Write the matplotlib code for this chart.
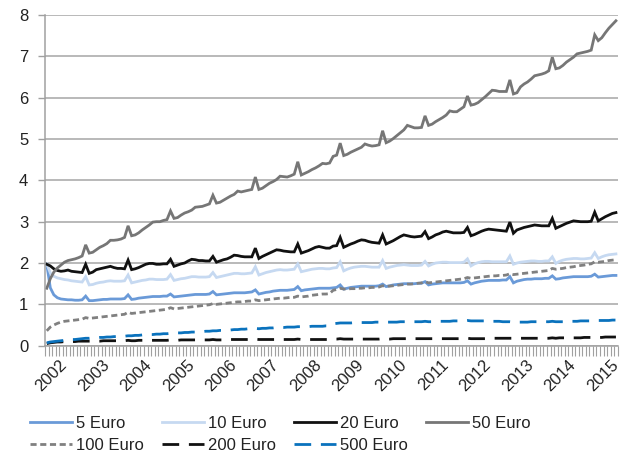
import matplotlib
matplotlib.use("Agg")
import matplotlib.pyplot as plt
import matplotlib.transforms as mtransforms
import numpy as np

plt.rcParams['font.family'] = ['Liberation Sans', 'DejaVu Sans']

years = list(range(2002, 2016))
n_months = 162  # Jan 2002 .. Jun 2015

eur5 = [
    1.97, 1.40, 1.23, 1.16, 1.13, 1.12, 1.11, 1.11, 1.10, 1.10, 1.11, 1.20,
    1.09, 1.09, 1.10, 1.11, 1.12, 1.12, 1.13, 1.13, 1.13, 1.13, 1.14, 1.23,
    1.12, 1.13, 1.15, 1.16, 1.17, 1.18, 1.19, 1.19, 1.19, 1.20, 1.20, 1.25,
    1.18, 1.19, 1.20, 1.21, 1.22, 1.23, 1.24, 1.24, 1.24, 1.24, 1.25, 1.31,
    1.23, 1.24, 1.25, 1.26, 1.27, 1.28, 1.28, 1.28, 1.28, 1.29, 1.30, 1.35,
    1.25, 1.27, 1.29, 1.30, 1.32, 1.33, 1.34, 1.34, 1.34, 1.35, 1.36, 1.43,
    1.33, 1.35, 1.36, 1.37, 1.38, 1.39, 1.39, 1.39, 1.39, 1.40, 1.41, 1.47,
    1.37, 1.39, 1.41, 1.42, 1.43, 1.44, 1.44, 1.44, 1.44, 1.44, 1.45, 1.49,
    1.43, 1.45, 1.47, 1.48, 1.49, 1.50, 1.50, 1.50, 1.50, 1.51, 1.51, 1.55,
    1.47, 1.49, 1.50, 1.51, 1.52, 1.52, 1.52, 1.52, 1.52, 1.52, 1.53, 1.57,
    1.49, 1.52, 1.54, 1.56, 1.57, 1.58, 1.58, 1.58, 1.58, 1.59, 1.59, 1.67,
    1.52, 1.56, 1.58, 1.60, 1.61, 1.61, 1.62, 1.62, 1.62, 1.63, 1.63, 1.69,
    1.61, 1.62, 1.64, 1.65, 1.66, 1.67, 1.67, 1.67, 1.67, 1.67, 1.68, 1.73,
    1.66, 1.67, 1.68, 1.69, 1.70, 1.70,
]

eur10 = [
    1.98, 1.76, 1.68, 1.64, 1.62, 1.60, 1.59, 1.57, 1.56, 1.55, 1.54, 1.67,
    1.47, 1.48, 1.51, 1.53, 1.54, 1.56, 1.57, 1.56, 1.56, 1.56, 1.57, 1.71,
    1.52, 1.54, 1.56, 1.58, 1.59, 1.61, 1.61, 1.60, 1.60, 1.60, 1.61, 1.72,
    1.58, 1.60, 1.62, 1.63, 1.65, 1.67, 1.67, 1.66, 1.66, 1.66, 1.67, 1.77,
    1.65, 1.67, 1.69, 1.71, 1.73, 1.75, 1.75, 1.74, 1.74, 1.75, 1.76, 1.91,
    1.71, 1.74, 1.77, 1.79, 1.81, 1.83, 1.84, 1.83, 1.83, 1.84, 1.85, 1.98,
    1.79, 1.81, 1.83, 1.85, 1.86, 1.87, 1.87, 1.86, 1.86, 1.88, 1.89, 2.03,
    1.81, 1.85, 1.88, 1.90, 1.91, 1.92, 1.92, 1.91, 1.90, 1.90, 1.90, 2.06,
    1.87, 1.90, 1.92, 1.94, 1.95, 1.96, 1.95, 1.94, 1.94, 1.94, 1.95, 2.04,
    1.93, 1.97, 2.00, 2.01, 2.02, 2.02, 2.01, 2.01, 2.01, 2.01, 2.02, 2.10,
    1.93, 1.98, 2.01, 2.03, 2.04, 2.04, 2.03, 2.03, 2.03, 2.03, 2.03, 2.17,
    1.97, 2.00, 2.02, 2.03, 2.04, 2.05, 2.05, 2.04, 2.04, 2.05, 2.05, 2.15,
    1.99, 2.04, 2.07, 2.09, 2.10, 2.11, 2.11, 2.10, 2.10, 2.11, 2.12, 2.25,
    2.11, 2.15, 2.18, 2.20, 2.21, 2.22,
]

eur20 = [
    1.97, 1.93, 1.86, 1.82, 1.80, 1.81, 1.83, 1.80, 1.79, 1.78, 1.77, 1.97,
    1.75, 1.78, 1.84, 1.86, 1.88, 1.90, 1.92, 1.89, 1.87, 1.87, 1.86, 2.07,
    1.84, 1.86, 1.89, 1.93, 1.97, 1.99, 1.99, 1.97, 1.97, 1.98, 1.98, 2.09,
    1.92, 1.95, 1.98, 2.00, 2.05, 2.09, 2.08, 2.06, 2.06, 2.05, 2.05, 2.16,
    2.02, 2.05, 2.08, 2.10, 2.14, 2.19, 2.18, 2.16, 2.15, 2.15, 2.15, 2.36,
    2.11, 2.16, 2.20, 2.24, 2.28, 2.32, 2.31, 2.29, 2.28, 2.27, 2.27, 2.46,
    2.24, 2.27, 2.30, 2.34, 2.38, 2.40, 2.38, 2.36, 2.36, 2.41, 2.42, 2.62,
    2.38, 2.42, 2.46, 2.49, 2.53, 2.56, 2.55, 2.52, 2.50, 2.49, 2.48, 2.68,
    2.46, 2.50, 2.54, 2.59, 2.64, 2.68, 2.66, 2.64, 2.63, 2.64, 2.65, 2.76,
    2.59, 2.63, 2.68, 2.71, 2.75, 2.77, 2.75, 2.73, 2.73, 2.73, 2.74, 2.86,
    2.66, 2.69, 2.73, 2.77, 2.80, 2.82, 2.81, 2.80, 2.79, 2.78, 2.77, 2.99,
    2.72, 2.80, 2.83, 2.86, 2.88, 2.90, 2.92, 2.91, 2.90, 2.90, 2.90, 3.08,
    2.84, 2.88, 2.92, 2.96, 2.99, 3.02, 3.01, 3.00, 3.00, 3.00, 3.01, 3.23,
    3.02, 3.07, 3.12, 3.16, 3.20, 3.22,
]

eur50 = [
    1.39, 1.62, 1.78, 1.88, 1.95, 2.02, 2.06, 2.08, 2.10, 2.13, 2.17, 2.44,
    2.24, 2.26, 2.32, 2.38, 2.42, 2.47, 2.55, 2.55, 2.56, 2.58, 2.62, 2.90,
    2.66, 2.68, 2.73, 2.80, 2.86, 2.92, 2.99, 3.00, 3.00, 3.03, 3.05, 3.26,
    3.08, 3.10, 3.16, 3.21, 3.24, 3.28, 3.35, 3.36, 3.37, 3.40, 3.43, 3.64,
    3.45, 3.47, 3.52, 3.57, 3.62, 3.66, 3.74, 3.72, 3.74, 3.76, 3.78, 4.08,
    3.78, 3.81, 3.87, 3.93, 3.97, 4.02, 4.10, 4.09, 4.08, 4.11, 4.15, 4.45,
    4.13, 4.17, 4.21, 4.26, 4.30, 4.35, 4.41, 4.40, 4.42, 4.58, 4.61, 4.90,
    4.60, 4.63, 4.68, 4.72, 4.76, 4.80, 4.88, 4.85, 4.83, 4.84, 4.86, 5.20,
    4.91, 4.95, 5.01, 5.08, 5.15, 5.22, 5.33, 5.30, 5.27, 5.27, 5.28, 5.56,
    5.33, 5.36, 5.42, 5.47, 5.52, 5.58, 5.68, 5.66, 5.66, 5.72, 5.78, 6.04,
    5.82, 5.84, 5.88, 5.95, 6.02, 6.10, 6.18, 6.17, 6.15, 6.15, 6.15, 6.43,
    6.09, 6.12, 6.26, 6.33, 6.38, 6.45, 6.53, 6.55, 6.57, 6.60, 6.65, 6.98,
    6.70, 6.72, 6.78, 6.86, 6.92, 6.98, 7.06, 7.08, 7.10, 7.12, 7.15, 7.52,
    7.38, 7.45, 7.57, 7.68, 7.77, 7.86,
]

eur100 = [
    0.36, 0.45, 0.50, 0.54, 0.57, 0.59, 0.60, 0.61, 0.62, 0.63, 0.64, 0.68,
    0.66, 0.67, 0.68, 0.69, 0.70, 0.71, 0.72, 0.73, 0.74, 0.75, 0.76, 0.81,
    0.78, 0.79, 0.80, 0.81, 0.82, 0.83, 0.84, 0.85, 0.86, 0.87, 0.88, 0.92,
    0.89, 0.90, 0.91, 0.92, 0.93, 0.94, 0.95, 0.96, 0.97, 0.98, 0.99, 1.02,
    1.00, 1.01, 1.02, 1.03, 1.04, 1.05, 1.06, 1.06, 1.07, 1.08, 1.08, 1.11,
    1.09, 1.10, 1.11, 1.12, 1.13, 1.14, 1.15, 1.15, 1.16, 1.17, 1.17, 1.20,
    1.18, 1.19, 1.20, 1.22, 1.23, 1.24, 1.25, 1.25, 1.26, 1.34, 1.36, 1.39,
    1.37, 1.37, 1.38, 1.38, 1.39, 1.39, 1.40, 1.40, 1.41, 1.41, 1.42, 1.45,
    1.44, 1.44, 1.45, 1.46, 1.47, 1.48, 1.49, 1.49, 1.50, 1.51, 1.52, 1.55,
    1.52, 1.53, 1.54, 1.55, 1.56, 1.57, 1.58, 1.59, 1.60, 1.61, 1.62, 1.65,
    1.63, 1.64, 1.65, 1.66, 1.67, 1.68, 1.69, 1.69, 1.70, 1.70, 1.71, 1.74,
    1.72, 1.73, 1.74, 1.75, 1.76, 1.77, 1.78, 1.79, 1.80, 1.81, 1.82, 1.87,
    1.85, 1.86, 1.87, 1.89, 1.90, 1.91, 1.93, 1.94, 1.95, 1.97, 1.98, 2.03,
    2.02, 2.03, 2.04, 2.06, 2.07, 2.08,
]

eur200 = [
    0.05, 0.07, 0.08, 0.09, 0.09, 0.10, 0.10, 0.10, 0.10, 0.11, 0.11, 0.11,
    0.11, 0.11, 0.11, 0.11, 0.12, 0.12, 0.12, 0.12, 0.12, 0.12, 0.12, 0.13,
    0.12, 0.12, 0.13, 0.13, 0.13, 0.13, 0.13, 0.13, 0.13, 0.13, 0.13, 0.14,
    0.13, 0.13, 0.14, 0.14, 0.14, 0.14, 0.14, 0.14, 0.14, 0.14, 0.14, 0.15,
    0.14, 0.14, 0.14, 0.15, 0.15, 0.15, 0.15, 0.15, 0.15, 0.15, 0.15, 0.16,
    0.15, 0.15, 0.15, 0.15, 0.15, 0.15, 0.15, 0.15, 0.15, 0.15, 0.15, 0.16,
    0.15, 0.15, 0.15, 0.15, 0.15, 0.15, 0.15, 0.15, 0.15, 0.16, 0.16, 0.17,
    0.16, 0.16, 0.16, 0.16, 0.16, 0.16, 0.16, 0.16, 0.16, 0.16, 0.16, 0.17,
    0.16, 0.16, 0.17, 0.17, 0.17, 0.17, 0.17, 0.17, 0.17, 0.17, 0.17, 0.17,
    0.17, 0.17, 0.17, 0.17, 0.17, 0.17, 0.17, 0.17, 0.17, 0.17, 0.17, 0.18,
    0.17, 0.17, 0.17, 0.17, 0.17, 0.17, 0.18, 0.18, 0.18, 0.18, 0.18, 0.18,
    0.18, 0.18, 0.18, 0.18, 0.18, 0.18, 0.18, 0.18, 0.18, 0.18, 0.18, 0.19,
    0.18, 0.19, 0.19, 0.19, 0.19, 0.19, 0.19, 0.19, 0.20, 0.20, 0.20, 0.20,
    0.20, 0.20, 0.21, 0.21, 0.21, 0.21,
]

eur500 = [
    0.07, 0.09, 0.10, 0.11, 0.12, 0.13, 0.14, 0.15, 0.15, 0.16, 0.17, 0.18,
    0.18, 0.19, 0.19, 0.20, 0.20, 0.21, 0.21, 0.22, 0.22, 0.23, 0.23, 0.24,
    0.24, 0.25, 0.25, 0.26, 0.26, 0.27, 0.27, 0.28, 0.28, 0.29, 0.29, 0.30,
    0.30, 0.31, 0.31, 0.32, 0.32, 0.33, 0.33, 0.34, 0.34, 0.35, 0.35, 0.36,
    0.36, 0.37, 0.37, 0.38, 0.38, 0.39, 0.39, 0.40, 0.40, 0.41, 0.41, 0.42,
    0.41, 0.42, 0.42, 0.43, 0.43, 0.44, 0.44, 0.44, 0.45, 0.45, 0.45, 0.46,
    0.46, 0.46, 0.46, 0.47, 0.47, 0.47, 0.47, 0.48, 0.48, 0.53, 0.54, 0.55,
    0.55, 0.55, 0.55, 0.56, 0.56, 0.56, 0.56, 0.56, 0.56, 0.57, 0.57, 0.57,
    0.57, 0.57, 0.57, 0.57, 0.58, 0.58, 0.58, 0.58, 0.58, 0.58, 0.58, 0.59,
    0.58, 0.58, 0.59, 0.59, 0.59, 0.59, 0.59, 0.60, 0.60, 0.60, 0.60, 0.61,
    0.60, 0.60, 0.60, 0.60, 0.60, 0.59, 0.59, 0.59, 0.59, 0.58, 0.58, 0.58,
    0.57, 0.57, 0.57, 0.57, 0.57, 0.58, 0.58, 0.58, 0.58, 0.58, 0.58, 0.59,
    0.58, 0.58, 0.58, 0.59, 0.59, 0.59, 0.59, 0.60, 0.60, 0.60, 0.60, 0.61,
    0.61, 0.61, 0.61, 0.61, 0.62, 0.62,
]

labels = ["5 Euro", "10 Euro", "20 Euro", "50 Euro", "100 Euro", "200 Euro", "500 Euro"]
series = [eur5, eur10, eur20, eur50, eur100, eur200, eur500]
colors = ["#6a9ad8", "#c6d9f1", "#111111", "#767676", "#808080", "#111111", "#0a72bd"]
dashes = [None, None, None, None, (2.2, 1.3), (6.0, 3.5), (6.0, 3.5)]

fig = plt.figure(figsize=(6.24, 4.57), dpi=100)
ax = fig.add_axes([45 / 624, 1 - 345.7 / 457, (617.7 - 45) / 624, (345.7 - 15) / 457])

x = np.arange(n_months)
handles = []
for vals, lab, col, ds in zip(series, labels, colors, dashes):
    if ds is None:
        h, = ax.plot(x, vals, color=col, lw=2.0, label=lab, solid_joinstyle='miter')
    else:
        h, = ax.plot(x, vals, color=col, lw=2.0, label=lab, dashes=ds)
    handles.append(h)

ax.set_xlim(-0.5, n_months - 0.5)
ax.set_ylim(0, 8)
ax.set_yticks(range(0, 9))
ax.yaxis.grid(True, color="#a6a6a6", lw=1.1)
ax.set_axisbelow(True)

year_pos = [5 + 12 * i for i in range(len(years))]
ax.set_xticks(year_pos)
ax.set_xticklabels([str(y) for y in years], rotation=45, ha='right', va='center',
                   rotation_mode='anchor', fontsize=12, color="#222222")
shift = mtransforms.ScaledTranslation(2.5 / 100, 0, fig.dpi_scale_trans)
for lbl in ax.get_xticklabels():
    lbl.set_transform(lbl.get_transform() + shift)
ax.set_xticks(np.arange(-0.5, n_months, 1.0), minor=True)
ax.tick_params(axis='x', which='major', length=0, pad=12)
ax.tick_params(axis='x', which='minor', length=7, width=0.8, color="#a0a0a0", direction='out')
ax.tick_params(axis='y', which='major', length=5, width=1.0, color="#a0a0a0",
               labelsize=12, labelcolor="#222222", pad=7)

for s in ['top', 'right']:
    ax.spines[s].set_visible(False)
ax.spines['left'].set_color("#a0a0a0")
ax.spines['left'].set_linewidth(1.1)
ax.spines['bottom'].set_color("#a0a0a0")
ax.spines['bottom'].set_linewidth(1.1)

order = [0, 4, 1, 5, 2, 6, 3]
fig.legend([handles[i] for i in order], [labels[i] for i in order],
           loc='upper left', bbox_to_anchor=(30 / 624, 1 - 416 / 457),
           ncol=4, frameon=False, fontsize=12, handlelength=2.5,
           handletextpad=0.25, columnspacing=1.1, labelspacing=0.42,
           borderpad=0, borderaxespad=0, labelcolor="#222222")

fig.savefig("out.png", dpi=100)
